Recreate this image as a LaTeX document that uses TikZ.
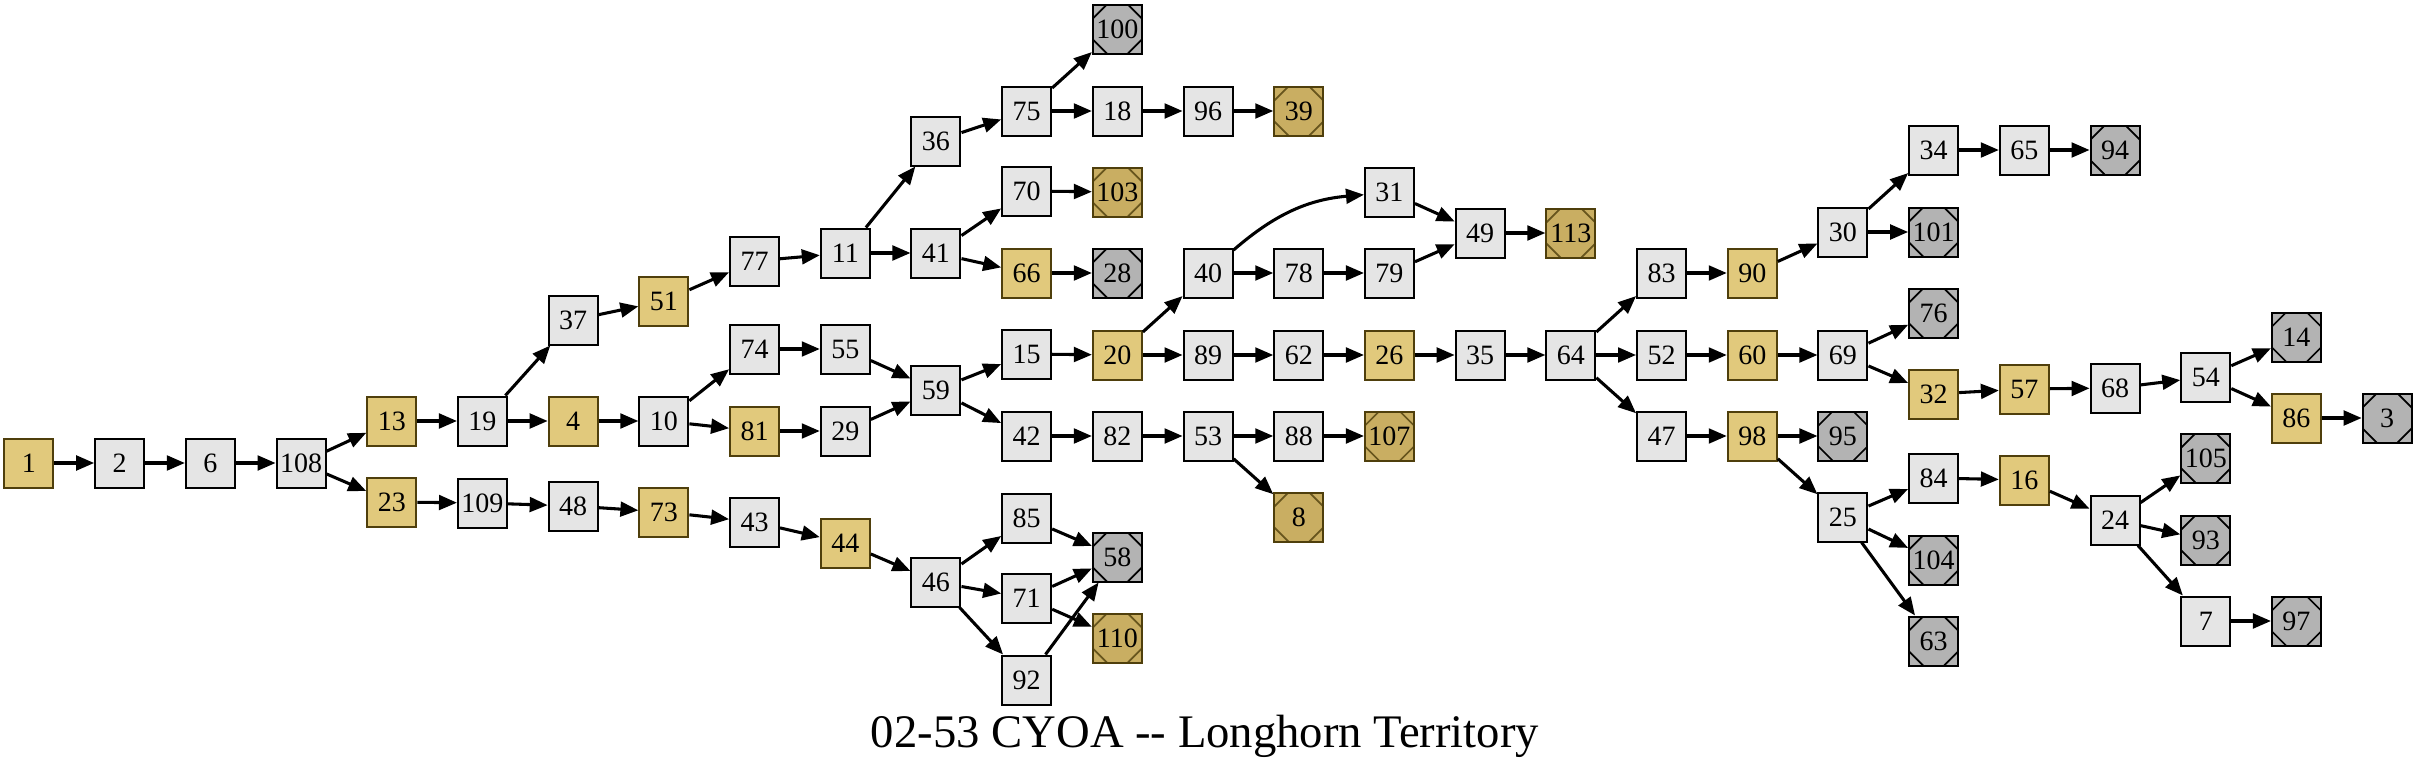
\documentclass[tikz,border=0pt]{standalone}
\usepackage{fontspec}
\setmainfont{Liberation Serif}
\usetikzlibrary{arrows.meta}
\definecolor{plain}{HTML}{E5E5E5}
\definecolor{gold}{HTML}{E1C97C}
\definecolor{goldend}{HTML}{C9AE62}
\definecolor{goldline}{HTML}{4F3F0C}
\definecolor{endgray}{HTML}{B3B3B3}
\begin{document}
\begin{tikzpicture}[x=68.025pt, y=-0.75pt, line width=2.3pt, >={Triangle[length=13.5pt,width=11pt]},
	pg/.style={draw, line width=1.5pt, fill=plain, minimum size=36.75pt, inner sep=0pt, font=\fontsize{21}{22}\selectfont},
	choice/.style={pg, draw=goldline, fill=gold},
	corners/.style={path picture={
		\draw[line width=1.3pt, #1] ([yshift=-10.5pt]path picture bounding box.north west) -- ([xshift=10.5pt]path picture bounding box.north west);
		\draw[line width=1.3pt, #1] ([xshift=-10.5pt]path picture bounding box.north east) -- ([yshift=-10.5pt]path picture bounding box.north east);
		\draw[line width=1.3pt, #1] ([yshift=10.5pt]path picture bounding box.south east) -- ([xshift=-10.5pt]path picture bounding box.south east);
		\draw[line width=1.3pt, #1] ([xshift=10.5pt]path picture bounding box.south west) -- ([yshift=10.5pt]path picture bounding box.south west);}},
	death/.style={pg, fill=endgray, corners=black},
	win/.style={pg, draw=goldline, fill=goldend, corners=goldline!80!goldend}]
	\useasboundingbox (-0.3197,0) rectangle (26.318,768);
	% story pages
	\node[choice] (p1) at (0,463) {1};
	\node[pg] (p2) at (1,463) {2};
	\node[pg] (p6) at (2,463) {6};
	\node[pg] (p108) at (3,463) {108};
	\node[choice] (p13) at (4,421) {13};
	\node[choice] (p23) at (4,502) {23};
	\node[pg] (p19) at (5,421) {19};
	\node[pg] (p109) at (5,503) {109};
	\node[pg] (p37) at (6,320) {37};
	\node[choice] (p4) at (6,421) {4};
	\node[pg] (p48) at (6,506) {48};
	\node[choice] (p51) at (7,301) {51};
	\node[pg] (p10) at (7,421) {10};
	\node[choice] (p73) at (7,512) {73};
	\node[pg] (p77) at (8,261) {77};
	\node[pg] (p74) at (8,349) {74};
	\node[choice] (p81) at (8,431) {81};
	\node[pg] (p43) at (8,522) {43};
	\node[pg] (p11) at (9,253) {11};
	\node[pg] (p55) at (9,349) {55};
	\node[pg] (p29) at (9,431) {29};
	\node[choice] (p44) at (9,543) {44};
	\node[pg] (p36) at (10,141) {36};
	\node[pg] (p41) at (10,253) {41};
	\node[pg] (p59) at (10,390) {59};
	\node[pg] (p46) at (10,582) {46};
	\node[pg] (p75) at (11,111) {75};
	\node[pg] (p70) at (11,191) {70};
	\node[choice] (p66) at (11,273) {66};
	\node[pg] (p15) at (11,354) {15};
	\node[pg] (p42) at (11,436) {42};
	\node[pg] (p85) at (11,518) {85};
	\node[pg] (p71) at (11,598) {71};
	\node[pg] (p92) at (11,680) {92};
	\node[death] (p100) at (12,29) {100};
	\node[pg] (p18) at (12,111) {18};
	\node[win] (p103) at (12,192) {103};
	\node[death] (p28) at (12,273) {28};
	\node[choice] (p20) at (12,355) {20};
	\node[pg] (p82) at (12,436) {82};
	\node[death] (p58) at (12,557) {58};
	\node[win] (p110) at (12,638) {110};
	\node[pg] (p96) at (13,111) {96};
	\node[pg] (p40) at (13,273) {40};
	\node[pg] (p89) at (13,355) {89};
	\node[pg] (p53) at (13,436) {53};
	\node[win] (p39) at (14,111) {39};
	\node[pg] (p78) at (14,273) {78};
	\node[pg] (p62) at (14,355) {62};
	\node[pg] (p88) at (14,436) {88};
	\node[win] (p8) at (14,517) {8};
	\node[pg] (p31) at (15,192) {31};
	\node[pg] (p79) at (15,273) {79};
	\node[choice] (p26) at (15,355) {26};
	\node[win] (p107) at (15,436) {107};
	\node[pg] (p49) at (16,233) {49};
	\node[pg] (p35) at (16,355) {35};
	\node[win] (p113) at (17,233) {113};
	\node[pg] (p64) at (17,355) {64};
	\node[pg] (p83) at (18,273) {83};
	\node[pg] (p52) at (18,355) {52};
	\node[pg] (p47) at (18,436) {47};
	\node[choice] (p90) at (19,273) {90};
	\node[choice] (p60) at (19,355) {60};
	\node[choice] (p98) at (19,436) {98};
	\node[pg] (p30) at (20,232) {30};
	\node[pg] (p69) at (20,355) {69};
	\node[death] (p95) at (20,436) {95};
	\node[pg] (p25) at (20,517) {25};
	\node[pg] (p34) at (21,150) {34};
	\node[death] (p101) at (21,232) {101};
	\node[death] (p76) at (21,313) {76};
	\node[choice] (p32) at (21,394) {32};
	\node[pg] (p84) at (21,478) {84};
	\node[death] (p104) at (21,560) {104};
	\node[death] (p63) at (21,641) {63};
	\node[pg] (p65) at (22,150) {65};
	\node[choice] (p57) at (22,389) {57};
	\node[choice] (p16) at (22,480) {16};
	\node[death] (p94) at (23,150) {94};
	\node[pg] (p68) at (23,388) {68};
	\node[pg] (p24) at (23,520) {24};
	\node[pg] (p54) at (24,377) {54};
	\node[death] (p105) at (24,458) {105};
	\node[death] (p93) at (24,540) {93};
	\node[pg] (p7) at (24,621) {7};
	\node[death] (p14) at (25,337) {14};
	\node[choice] (p86) at (25,418) {86};
	\node[death] (p97) at (25,621) {97};
	\node[death] (p3) at (26,418) {3};
	\node[anchor=base, font=\fontsize{35}{40}\selectfont] (title) at (12.966,748) {02-53 CYOA -{}- Longhorn Territory};
	% links
	\draw[->] (p1) to (p2);
	\draw[->] (p2) to (p6);
	\draw[->] (p6) to (p108);
	\draw[->] (p108) to (p13);
	\draw[->] (p108) to (p23);
	\draw[->] (p13) to (p19);
	\draw[->] (p23) to (p109);
	\draw[->] (p19) to (p37);
	\draw[->] (p19) to (p4);
	\draw[->] (p109) to (p48);
	\draw[->] (p37) to (p51);
	\draw[->] (p4) to (p10);
	\draw[->] (p48) to (p73);
	\draw[->] (p51) to (p77);
	\draw[->] (p10) to (p74);
	\draw[->] (p10) to (p81);
	\draw[->] (p73) to (p43);
	\draw[->] (p77) to (p11);
	\draw[->] (p74) to (p55);
	\draw[->] (p81) to (p29);
	\draw[->] (p43) to (p44);
	\draw[->] (p11) to (p36);
	\draw[->] (p11) to (p41);
	\draw[->] (p55) to (p59);
	\draw[->] (p29) to (p59);
	\draw[->] (p44) to (p46);
	\draw[->] (p36) to (p75);
	\draw[->] (p41) to (p70);
	\draw[->] (p41) to (p66);
	\draw[->] (p59) to (p15);
	\draw[->] (p59) to (p42);
	\draw[->] (p46) to (p85);
	\draw[->] (p46) to (p71);
	\draw[->] (p46) to (p92);
	\draw[->] (p75) to (p100);
	\draw[->] (p75) to (p18);
	\draw[->] (p70) to (p103);
	\draw[->] (p66) to (p28);
	\draw[->] (p15) to (p20);
	\draw[->] (p42) to (p82);
	\draw[->] (p85) to (p58);
	\draw[->] (p71) to (p58);
	\draw[->] (p71) to (p110);
	\draw[->] (p92) to (p58);
	\draw[->] (p18) to (p96);
	\draw[->] (p20) to (p40);
	\draw[->] (p20) to (p89);
	\draw[->] (p82) to (p53);
	\draw[->] (p96) to (p39);
	\draw[->] (p40) to[bend left=18] (p31);
	\draw[->] (p40) to (p78);
	\draw[->] (p89) to (p62);
	\draw[->] (p53) to (p88);
	\draw[->] (p53) to (p8);
	\draw[->] (p78) to (p79);
	\draw[->] (p62) to (p26);
	\draw[->] (p88) to (p107);
	\draw[->] (p31) to (p49);
	\draw[->] (p79) to (p49);
	\draw[->] (p26) to (p35);
	\draw[->] (p49) to (p113);
	\draw[->] (p35) to (p64);
	\draw[->] (p64) to (p83);
	\draw[->] (p64) to (p52);
	\draw[->] (p64) to (p47);
	\draw[->] (p83) to (p90);
	\draw[->] (p52) to (p60);
	\draw[->] (p47) to (p98);
	\draw[->] (p90) to (p30);
	\draw[->] (p60) to (p69);
	\draw[->] (p98) to (p95);
	\draw[->] (p98) to (p25);
	\draw[->] (p30) to (p34);
	\draw[->] (p30) to (p101);
	\draw[->] (p69) to (p76);
	\draw[->] (p69) to (p32);
	\draw[->] (p25) to (p84);
	\draw[->] (p25) to (p104);
	\draw[->] (p25) to (p63);
	\draw[->] (p34) to (p65);
	\draw[->] (p32) to (p57);
	\draw[->] (p84) to (p16);
	\draw[->] (p65) to (p94);
	\draw[->] (p57) to (p68);
	\draw[->] (p16) to (p24);
	\draw[->] (p68) to (p54);
	\draw[->] (p24) to (p105);
	\draw[->] (p24) to (p93);
	\draw[->] (p24) to (p7);
	\draw[->] (p54) to (p14);
	\draw[->] (p54) to (p86);
	\draw[->] (p7) to (p97);
	\draw[->] (p86) to (p3);
\end{tikzpicture}
\end{document}
